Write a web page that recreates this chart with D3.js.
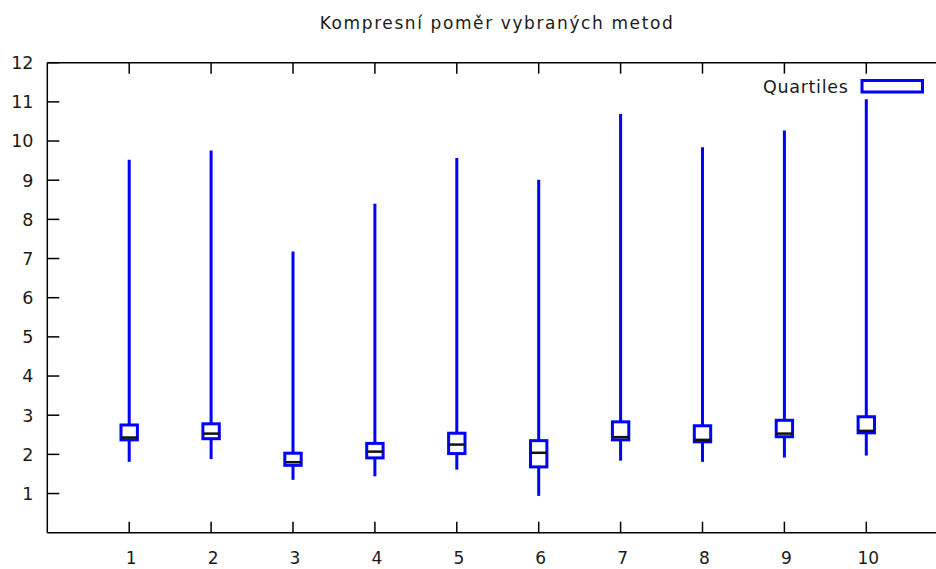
<!DOCTYPE html>
<html><head><meta charset="utf-8">
<script src="https://cdn.jsdelivr.net/npm/d3@7"></script>
<style>body{margin:0;background:#fff}svg{display:block}text{font-family:"DejaVu Sans",sans-serif;fill:#1a1a1a}</style>
</head><body><svg id="c" width="936" height="569"></svg>
<script>
const categories = [1,2,3,4,5,6,7,8,9,10];
const whiskerLow  = [1.81,1.88,1.35,1.44,1.61,0.94,1.84,1.81,1.92,1.97];
const q1          = [2.37,2.40,1.72,1.91,2.02,1.68,2.37,2.32,2.45,2.55];
const median      = [2.43,2.53,1.80,2.07,2.25,2.04,2.44,2.37,2.53,2.60];
const q3          = [2.75,2.78,2.03,2.28,2.54,2.35,2.83,2.73,2.87,2.96];
const whiskerHigh = [9.52,9.76,7.18,8.40,9.57,9.01,10.69,9.84,10.27,11.07];
const yTicks = [1,2,3,4,5,6,7,8,9,10,11,12];
const title = "Kompresní poměr vybraných metod";
const legendLabel = "Quartiles";

const svg = d3.select("#c");
const L = 47.3, T = 62.7, B = 532.7;
const x = d3.scaleLinear().domain([0,11]).range([L, L + 11*81.9]);
const y = d3.scaleLinear().domain([0,12]).range([B, T]);
const blue = "#0000ff";
const boxW = 0.2;

// title
svg.append("text").attr("x",497).attr("y",28.5).attr("text-anchor","middle")
  .style("font-size","17px").style("letter-spacing","1.6px").text(title);

// frame
const g = svg.append("g");
g.append("line").attr("x1",L).attr("x2",L).attr("y1",T).attr("y2",B).attr("stroke","#000").attr("stroke-width",1.5);
g.append("line").attr("x1",L).attr("x2",x(11)).attr("y1",B).attr("y2",B).attr("stroke","#000").attr("stroke-width",1.5);
g.append("line").attr("x1",L).attr("x2",x(11)).attr("y1",T).attr("y2",T).attr("stroke","#000").attr("stroke-width",1.5);

// y ticks
g.selectAll(".yt").data(yTicks).join("line")
  .attr("x1",L).attr("x2",L+12).attr("y1",d=>y(d)).attr("y2",d=>y(d))
  .attr("stroke","#000").attr("stroke-width",1.5);
g.selectAll(".yl").data(yTicks).join("text")
  .attr("x",33.5).attr("y",d=>y(d)).attr("dy","0.36em").attr("text-anchor","end")
  .style("font-size","17.5px").text(d=>d);

// x ticks (bottom and mirrored top)
g.selectAll(".xt").data(categories).join("line")
  .attr("x1",d=>x(d)).attr("x2",d=>x(d)).attr("y1",B).attr("y2",B-11)
  .attr("stroke","#000").attr("stroke-width",1.5);
g.selectAll(".xt2").data(categories).join("line")
  .attr("x1",d=>x(d)).attr("x2",d=>x(d)).attr("y1",T).attr("y2",T+11)
  .attr("stroke","#000").attr("stroke-width",1.5);
g.selectAll(".xl").data(categories).join("text")
  .attr("x",d=>x(d)+2).attr("y",564).attr("text-anchor","middle")
  .style("font-size","17px").text(d=>d);

// boxes
const data = categories.map((c,i)=>({c, lo:whiskerLow[i], q1:q1[i], med:median[i], q3:q3[i], hi:whiskerHigh[i]}));
const bg = svg.append("g");
bg.selectAll(".wl").data(data).join("line")
  .attr("x1",d=>x(d.c)).attr("x2",d=>x(d.c)).attr("y1",d=>y(d.lo)).attr("y2",d=>y(d.q1))
  .attr("stroke",blue).attr("stroke-width",3);
bg.selectAll(".wh").data(data).join("line")
  .attr("x1",d=>x(d.c)).attr("x2",d=>x(d.c)).attr("y1",d=>y(d.q3)).attr("y2",d=>y(d.hi))
  .attr("stroke",blue).attr("stroke-width",3);
bg.selectAll(".bx").data(data).join("rect")
  .attr("x",d=>x(d.c-boxW/2)).attr("width",d=>x(d.c+boxW/2)-x(d.c-boxW/2))
  .attr("y",d=>y(d.q3)).attr("height",d=>y(d.q1)-y(d.q3))
  .attr("fill","#fff").attr("stroke",blue).attr("stroke-width",3);
bg.selectAll(".md").data(data).join("line")
  .attr("x1",d=>x(d.c-boxW/2)).attr("x2",d=>x(d.c+boxW/2)).attr("y1",d=>y(d.med)).attr("y2",d=>y(d.med))
  .attr("stroke","#111").attr("stroke-width",2.5);

// legend
svg.append("text").attr("x",848.5).attr("y",93.3).attr("text-anchor","end")
  .style("font-size","17.5px").style("letter-spacing","0.7px").text(legendLabel);
svg.append("rect").attr("x",862).attr("y",80.5).attr("width",60.5).attr("height",11.5)
  .attr("fill","#fff").attr("stroke",blue).attr("stroke-width",3);
</script></body></html>
